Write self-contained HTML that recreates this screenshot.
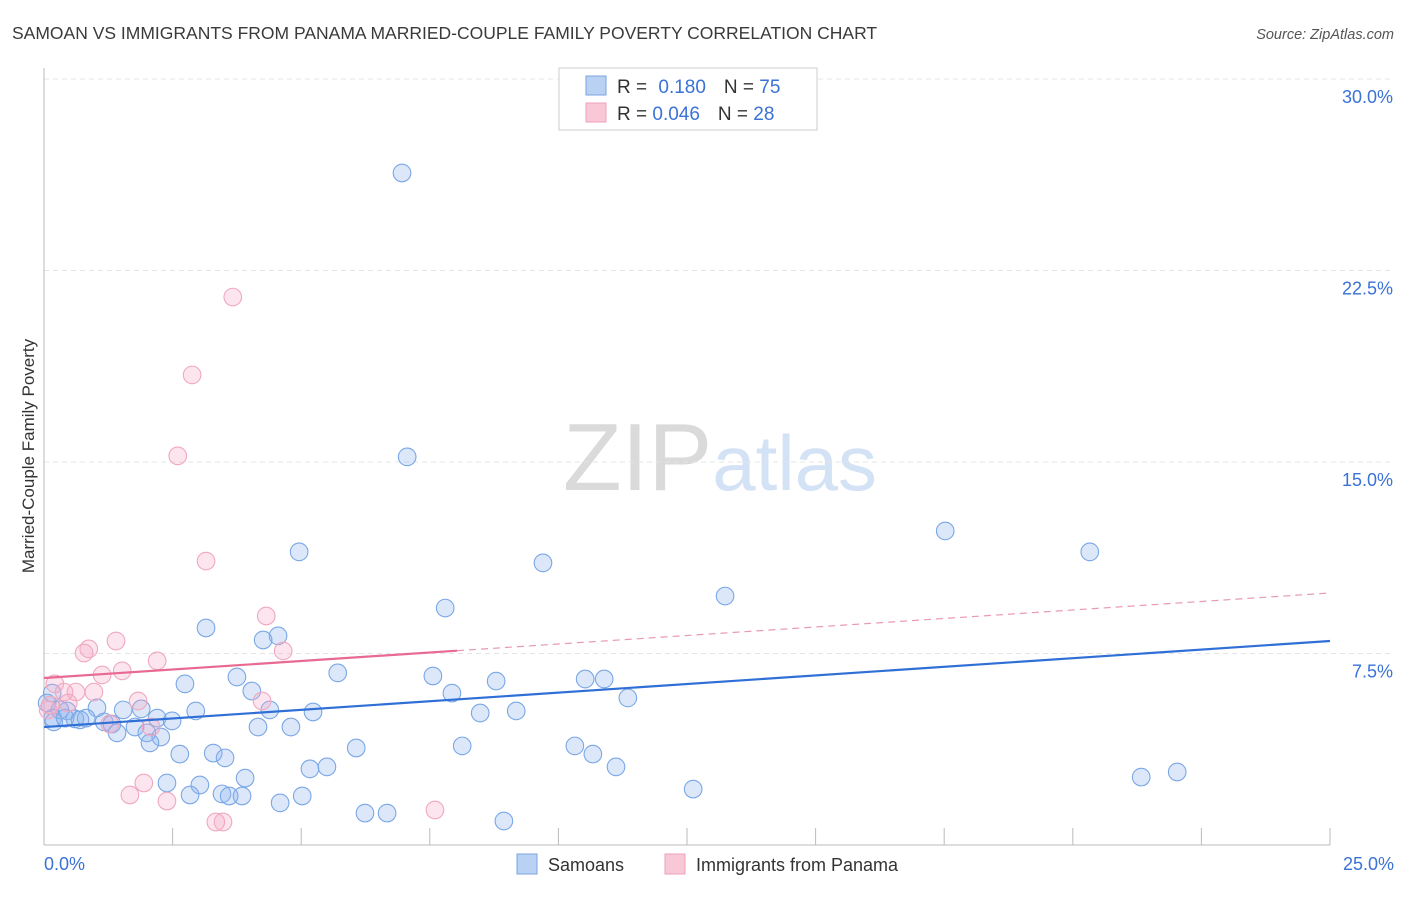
<!DOCTYPE html>
<html><head><meta charset="utf-8"><style>
body{margin:0;background:#fff;font-family:"Liberation Sans",sans-serif;}
svg text{font-family:"Liberation Sans",sans-serif;}
</style></head><body>
<svg id="chart" width="1406" height="892" xmlns="http://www.w3.org/2000/svg">
<text x="12" y="39" font-size="17.5" fill="#3a3a3a">SAMOAN VS IMMIGRANTS FROM PANAMA MARRIED-COUPLE FAMILY POVERTY CORRELATION CHART</text>
<text x="1394" y="39" font-size="14.5" fill="#555" text-anchor="end" font-style="italic">Source: ZipAtlas.com</text>
<text x="720" y="490" font-size="96" text-anchor="middle" fill="#ddd" font-family="Liberation Serif"><tspan fill="#dadada">ZIP</tspan><tspan fill="#d3e2f4" font-family="Liberation Sans" font-size="78">atlas</tspan></text>
<text transform="translate(34,456) rotate(-90)" font-size="17" fill="#333" text-anchor="middle">Married-Couple Family Poverty</text>
<g id="grid"></g><g id="ticks"></g><g id="pts"></g><g id="lines"></g>
<g>
<rect x="559" y="68" width="258" height="62" fill="#fff" stroke="#ccc"/>
<rect x="586" y="76" width="20" height="19" fill="#b9d2f4" stroke="#7aa4e0"/>
<rect x="586" y="103" width="20" height="19" fill="#f9c8d7" stroke="#eea0b8"/>
<text x="617" y="93" font-size="19" fill="#333">R = <tspan fill="#3a72d6" dx="6">0.180</tspan><tspan dx="18" fill="#333">N = </tspan><tspan fill="#3a72d6">75</tspan></text>
<text x="617" y="120" font-size="19" fill="#333">R = <tspan fill="#3a72d6">0.046</tspan><tspan dx="18" fill="#333">N = </tspan><tspan fill="#3a72d6">28</tspan></text>
</g>
<g>
<rect x="517" y="854" width="20" height="20" fill="#b9d2f4" stroke="#7aa4e0"/>
<text x="548" y="871" font-size="18" fill="#333">Samoans</text>
<rect x="665" y="854" width="20" height="20" fill="#f9c8d7" stroke="#eea0b8"/>
<text x="696" y="871" font-size="18" fill="#333">Immigrants from Panama</text>
</g>
</svg>
<script>
const yTicks=[7.5,15,22.5,30];
const yTickLabels=["7.5%","15.0%","22.5%","30.0%"];
const xTickLabels=["0.0%","25.0%"];
const blueX=[6.96,7.06,4.96,9.70,17.52,20.33,7.80,13.24,3.15,4.55,4.26,5.71,7.56,2.74,3.75,8.79,10.52,10.89,4.04,7.93,11.35,4.39,5.23,2.95,1.03,1.54,1.89,0.45,2.20,2.49,8.48,9.18,4.16,4.80,0.17,0.19,0.60,0.82,1.17,1.32,1.77,2.00,1.42,2.27,2.06,2.64,3.29,3.52,6.07,8.13,10.32,10.67,11.12,3.91,5.17,5.50,2.39,3.03,2.84,3.46,3.60,3.85,4.59,5.02,6.24,6.67,8.94,12.62,21.33,22.03,0.06,0.16,0.31,0.41,0.70];
const blueY=[26.32,15.20,11.48,11.05,12.30,11.48,9.28,9.75,8.50,8.19,8.03,6.74,6.62,6.31,6.58,6.42,6.50,6.50,6.03,5.95,5.76,5.29,5.21,5.25,5.37,5.29,5.33,5.25,4.97,4.86,5.17,5.25,4.62,4.62,4.97,4.82,4.94,4.97,4.82,4.74,4.62,4.39,4.39,4.23,4.00,3.56,3.60,3.41,3.80,3.88,3.88,3.56,3.06,2.62,2.98,3.06,2.43,2.35,1.96,2.00,1.92,1.92,1.65,1.92,1.25,1.25,0.94,2.19,2.66,2.86,5.56,5.95,5.29,4.97,4.90];
const pinkX=[3.67,2.88,2.60,3.15,4.32,4.65,1.40,0.87,0.78,2.20,1.52,1.13,0.21,0.39,0.62,0.97,1.83,4.24,0.47,0.12,0.08,2.08,1.28,1.94,1.67,2.39,3.34,3.48,7.60];
const pinkY=[21.46,18.41,15.24,11.12,8.97,7.60,7.99,7.68,7.52,7.21,6.82,6.66,6.31,5.99,5.99,5.99,5.64,5.64,5.56,5.48,5.29,4.62,4.74,2.43,1.96,1.72,0.90,0.90,1.37];
const blueTrend=[4.62,7.99];
const pinkTrend=[6.54,9.87];
const pinkSolidEnd=8.03;
const NS="http://www.w3.org/2000/svg";
const sx=v=>44+v*1286/25, sy=v=>845-v*766/30;
function mk(t,a,p){const e=document.createElementNS(NS,t);for(const k in a)e.setAttribute(k,a[k]);p.appendChild(e);return e;}
const grid=document.getElementById('grid'),ticks=document.getElementById('ticks'),pts=document.getElementById('pts'),lines=document.getElementById('lines');
yTicks.forEach((t,i)=>{
 const l=mk('line',{x1:44,x2:1394,y1:sy(t),y2:sy(t),stroke:'#e4e4e4','stroke-dasharray':'5,4'},grid);
 
 
 const tx=mk('text',{x:1393,y:sy(t)+24,'font-size':18,fill:'#3a72d6','text-anchor':'end'},ticks);tx.textContent=yTickLabels[i];
 
 
});
const ax=mk('line',{x1:44,x2:44,y1:68,y2:845,stroke:'#bbb'},ticks);


const bx=mk('line',{x1:44,x2:1330,y1:845,y2:845,stroke:'#bbb'},ticks);


for(let i=1;i<=10;i++){const t=mk('line',{x1:sx(i*2.5),x2:sx(i*2.5),y1:828,y2:845,stroke:'#bbb'},ticks);
 
 }
[[0,'start',44],[25,'end',1394]].forEach((d,i)=>{const t=mk('text',{x:d[2],y:870,'font-size':18,fill:'#3a72d6','text-anchor':d[1]},ticks);t.textContent=xTickLabels[i];
 
 });
blueX.forEach((x,i)=>{const c=mk('circle',{cx:sx(x),cy:sy(blueY[i]),r:8.8,fill:'rgba(140,180,240,0.3)',stroke:'#7aa7e6','stroke-width':1.1},pts);
 
 });
pinkX.forEach((x,i)=>{const c=mk('circle',{cx:sx(x),cy:sy(pinkY[i]),r:8.8,fill:'rgba(246,170,198,0.3)',stroke:'#f0a8bf','stroke-width':1.1},pts);
 
 });
const bl=mk('line',{x1:sx(0),y1:sy(blueTrend[0]),x2:sx(25),y2:sy(blueTrend[1]),stroke:'#2f6fd6','stroke-width':2.2},lines);


const pe=pinkTrend[0]+(pinkTrend[1]-pinkTrend[0])*pinkSolidEnd/25;
const pl=mk('line',{x1:sx(0),y1:sy(pinkTrend[0]),x2:sx(pinkSolidEnd),y2:sy(pe),stroke:'#e86a93','stroke-width':2.2},lines);


const pd=mk('line',{x1:sx(pinkSolidEnd),y1:sy(pe),x2:sx(25),y2:sy(pinkTrend[1]),stroke:'#e89ab3','stroke-width':1.2,'stroke-dasharray':'7,5'},lines);


</script>
</body></html>
